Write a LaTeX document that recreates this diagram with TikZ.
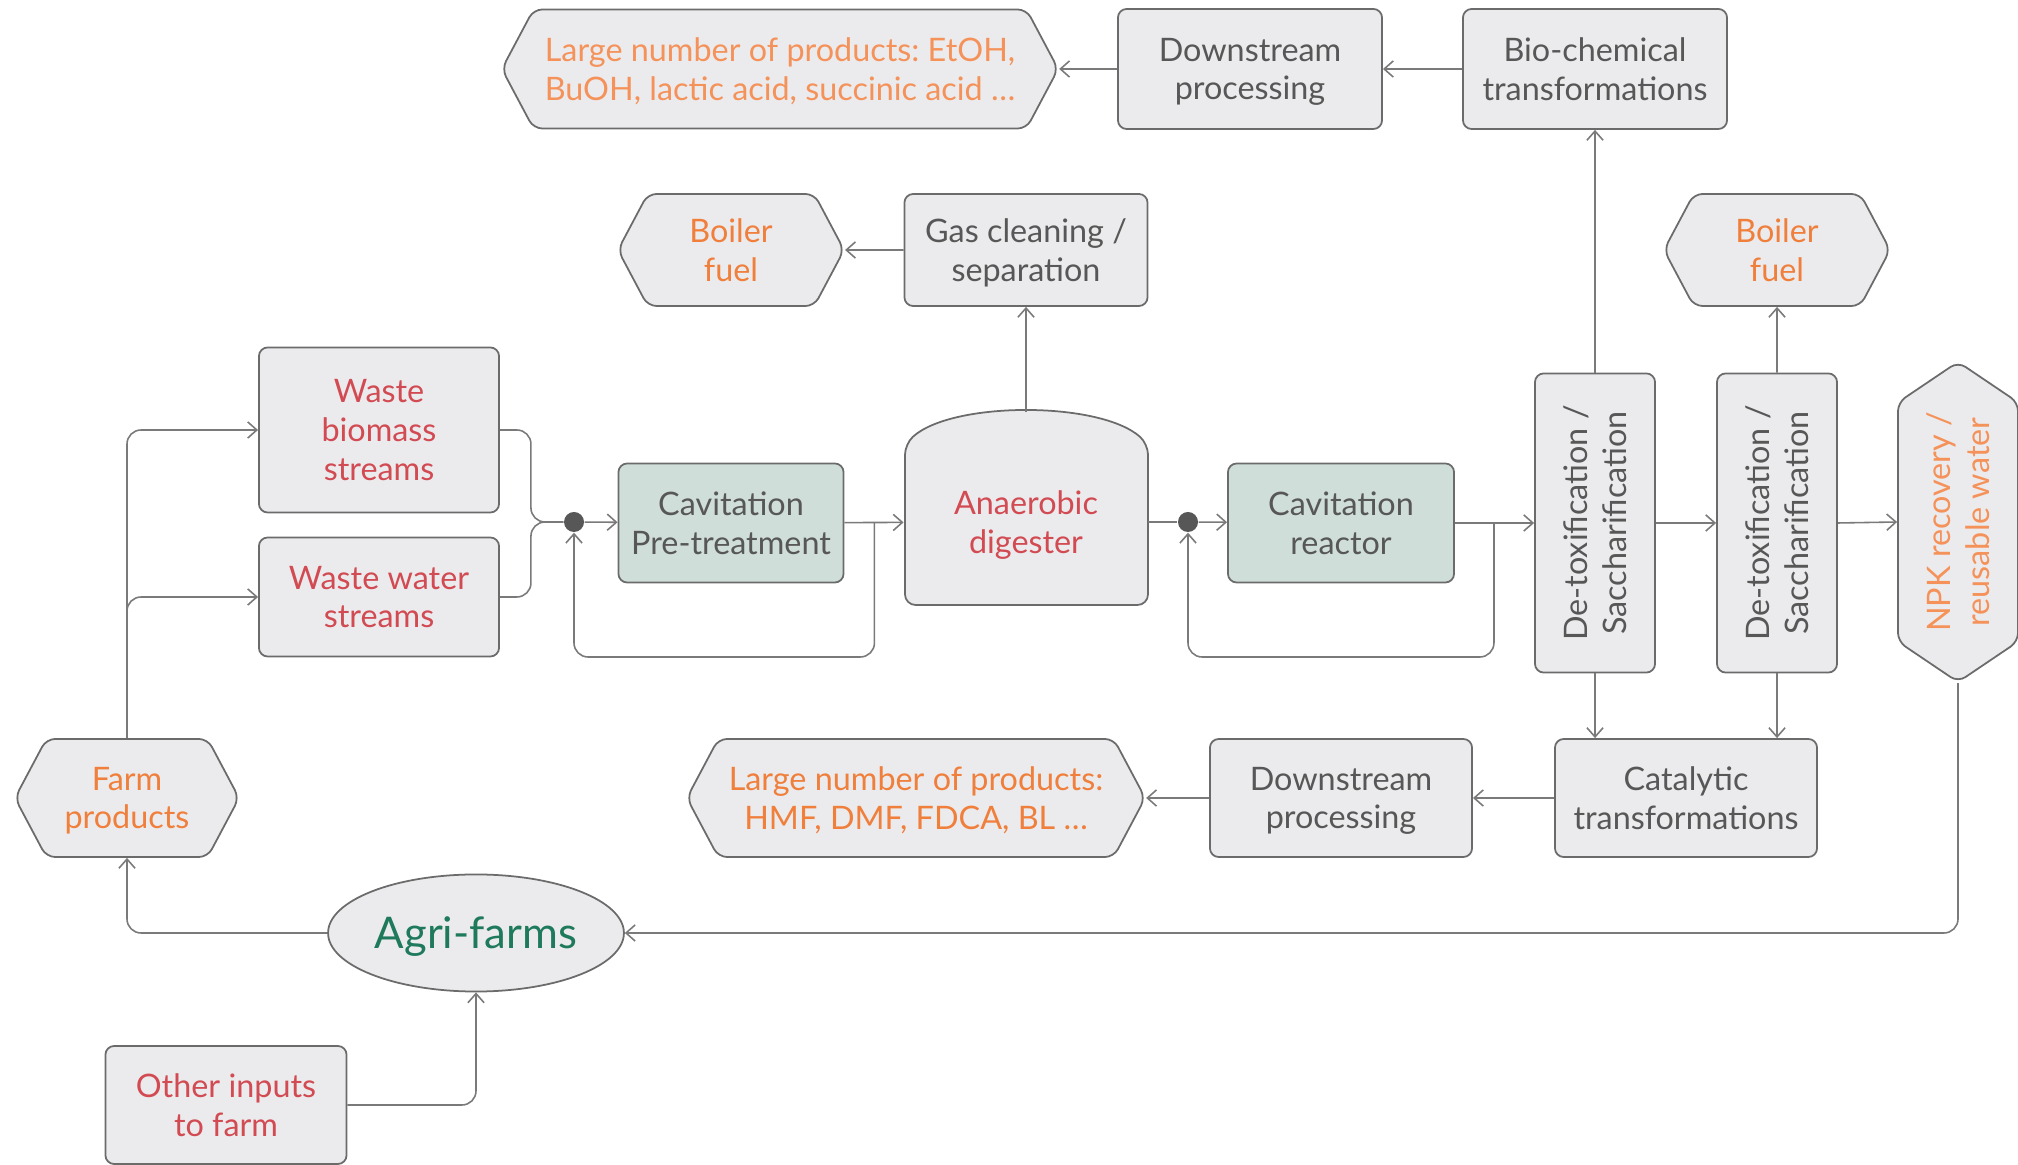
\documentclass[tikz,border=0pt]{standalone}
\usepackage{fontspec}
\setmainfont{Lato}
\frenchspacing
\usetikzlibrary{arrows.meta,shapes.symbols,shapes.geometric}

\definecolor{boxfill}{HTML}{EBEBED}
\definecolor{boxline}{HTML}{6B6B6B}
\definecolor{cavfill}{HTML}{CFDED8}
\definecolor{txtgray}{HTML}{575757}
\definecolor{txtred}{HTML}{D24A52}
\definecolor{txtorange}{HTML}{F07F3C}
\definecolor{txtpeach}{HTML}{F5925A}
\definecolor{txtgreen}{HTML}{1F7A5C}
\definecolor{linkgray}{HTML}{7A7A7A}

\tikzset{
  base/.style={draw=boxline, line width=0.5pt, fill=boxfill, align=center, inner sep=1pt,
    text depth=0pt, font=\fontsize{9.2}{11}\selectfont, text=txtgray},
  proc/.style={base, rectangle, rounded corners=2.5pt},
  cav/.style={proc, fill=cavfill},
  prod/.style={base, signal, signal to=west and east, signal pointer angle=124,
    rounded corners=2.5pt, text=txtorange},
  junc/.style={circle, fill=txtgray, inner sep=0pt, minimum size=0.2cm},
  flow/.style={draw=linkgray, line width=0.45pt, rounded corners=4pt},
}

\begin{document}
\begin{tikzpicture}[x=0.01cm,y=-0.01cm,>={Straight Barb[length=2.6pt,width=4.6pt]}]
  \useasboundingbox (0,0) rectangle (2018,1165);
  % top row
  \node[prod, text=txtpeach, minimum width=5.56cm, minimum height=1.19cm] (ethp) at (780,69) {Large number of products: EtOH,\\ BuOH, lactic acid, succinic acid …};
  \node[proc, minimum width=2.64cm, minimum height=1.2cm] (dsp1) at (1250,69) {Downstream\\ processing};
  \node[proc, minimum width=2.64cm, minimum height=1.2cm] (bio) at (1595,69) {Bio-chemical\\ transformations};
  \node[prod, minimum width=2.26cm, minimum height=1.12cm] (bf1) at (731,250) {Boiler\\ fuel};
  \node[proc, minimum width=2.43cm, minimum height=1.12cm] (gas) at (1026,250) {Gas cleaning /\\ separation};
  \node[prod, minimum width=2.26cm, minimum height=1.12cm] (bf2) at (1777,250) {Boiler\\ fuel};
  % feed streams and cavitation
  \node[proc, text=txtred, minimum width=2.4cm, minimum height=1.65cm] (wbs) at (379,430) {Waste\\ biomass\\ streams};
  \node[proc, text=txtred, minimum width=2.4cm, minimum height=1.19cm] (wws) at (379,597) {Waste water\\ streams};
  \node[junc] (j1) at (574,522) {};
  \node[cav, minimum width=2.25cm, minimum height=1.19cm] (cpt) at (731,523) {Cavitation\\ Pre-treatment};
  % digester body
  \filldraw[draw=boxline, fill=boxfill, line width=0.5pt, rounded corners=3pt] (1026,605) -- (905,605) -- (905,444) .. controls (952,401) and (1100,401) .. (1148,444) -- (1148,605) -- cycle;
  \node[base, draw=none, fill=none, text=txtred, minimum width=2.43cm, minimum height=1.6cm] (adg) at (1026,522) {Anaerobic\\ digester};
  \coordinate (adtop) at (1026,412);
  \node[junc] (j2) at (1188,522) {};
  \node[cav, minimum width=2.26cm, minimum height=1.19cm] (cre) at (1341,523) {Cavitation\\ reactor};
  \node[proc, rotate=90, minimum width=2.99cm, minimum height=1.2cm] (dts1) at (1595,523) {De-toxification /\\ Saccharification};
  \node[proc, rotate=90, minimum width=2.99cm, minimum height=1.2cm] (dts2) at (1777,523) {De-toxification /\\ Saccharification};
  \node[prod, rotate=90, text=txtpeach, signal pointer angle=112, minimum width=3.2cm, minimum height=1.2cm] (npk) at (1958,522) {NPK recovery /\\ reusable water};
  % bottom row
  \node[proc, minimum width=2.62cm, minimum height=1.18cm] (cat) at (1686,798) {Catalytic\\ transformations};
  \node[proc, minimum width=2.62cm, minimum height=1.18cm] (dsp2) at (1341,798) {Downstream\\ processing};
  \node[prod, minimum width=4.58cm, minimum height=1.18cm] (hmfp) at (916,798) {Large number of products:\\ HMF, DMF, FDCA, BL …};
  \node[prod, minimum width=2.24cm, minimum height=1.18cm] (farm) at (127,798) {Farm\\ products};
  \node[base, ellipse, text=txtgreen, font=\fontsize{12.4}{15}\selectfont, minimum width=2.93cm, minimum height=1.17cm] (agri) at (476,933) {Agri-farms};
  \node[proc, text=txtred, minimum width=2.41cm, minimum height=1.18cm] (oth) at (226,1105) {Other inputs\\ to farm};

  % connectors
  \draw[flow,->] (farm.north) |- (wbs.west);
  \draw[flow,->] (farm.north) |- (wws.west);
  \draw[flow] (wbs.east) -- ++(31,0) |- (j1);
  \draw[flow] (wws.east) -- ++(31,0) |- (j1);
  \draw[flow,->] (j1) -- (cpt);
  \draw[flow,->] (cpt) -- (adg);
  \draw[flow,->] (cpt.east) ++(30,0) -- ++(0,134) -| (j1);
  \draw[flow,->] (adtop) -- (gas);
  \draw[flow,->] (gas) -- (bf1);
  \draw[flow] (adg) -- (j2);
  \draw[flow,->] (j2) -- (cre);
  \draw[flow,->] (cre) -- (dts1.north);
  \draw[flow,->] (cre.east) ++(39,0) -- ++(0,134) -| (j2);
  \draw[flow,->] (dts1.east) -- (bio);
  \draw[flow,->] (bio) -- (dsp1);
  \draw[flow,->] (dsp1) -- (ethp);
  \draw[flow,->] (dts1.south) -- (dts2.north);
  \draw[flow,->] (dts2.east) -- (bf2);
  \draw[flow,->] (dts2.south) -- (npk.north);
  \draw[flow,->] (dts1.west) -- (dts1.west |- cat.north);
  \draw[flow,->] (dts2.west) -- (dts2.west |- cat.north);
  \draw[flow,->] (cat) -- (dsp2);
  \draw[flow,->] (dsp2) -- (hmfp);
  \draw[flow,->] (npk.west) |- (agri);
  \draw[flow,->] (agri) -| (farm.south);
  \draw[flow,->] (oth) -| (agri.south);
\end{tikzpicture}
\end{document}
